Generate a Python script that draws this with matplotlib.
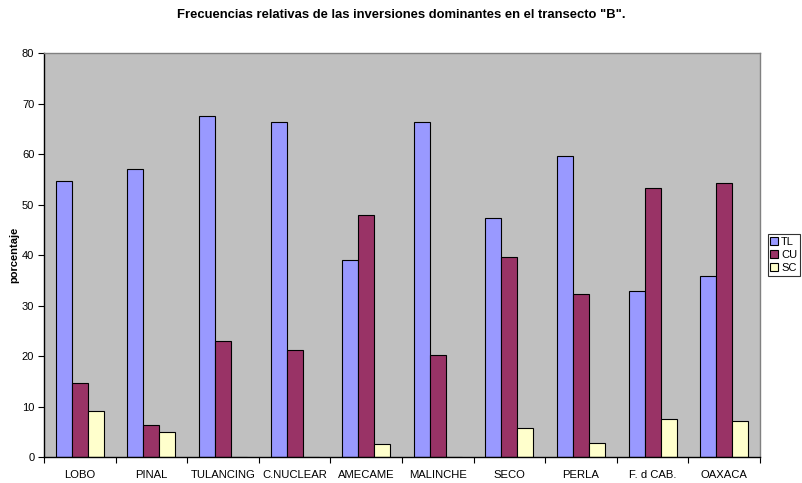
import numpy as np
import matplotlib
matplotlib.use("Agg")
import matplotlib.pyplot as plt

# valores (porcentaje)
sitios = ["LOBO", "PINAL", "TULANCING", "C.NUCLEAR", "AMECAME",
          "MALINCHE", "SECO", "PERLA", "F. d CAB.", "OAXACA"]
tl = [54.6, 57.0, 67.6, 66.3, 39.0, 66.3, 47.4, 59.7, 32.8, 35.8]
cu = [14.6, 6.3, 22.9, 21.2, 48.0, 20.2, 39.6, 32.3, 53.3, 54.2]
sc = [9.1, 4.9, 0, 0, 2.5, 0, 5.8, 2.7, 7.5, 7.2]

plt.rcParams['font.family'] = ['Liberation Sans', 'DejaVu Sans']

fig = plt.figure(figsize=(8.03, 4.83), dpi=100)
ax = fig.add_axes([0.0548, 0.0538, 0.8917, 0.8362])

x = np.arange(len(sitios))
w = 0.224
ax.bar(x - w, tl, w, color="#9999FF", edgecolor="black", linewidth=0.8, label="TL")
ax.bar(x, cu, w, color="#993366", edgecolor="black", linewidth=0.8, label="CU")
ax.bar(x + w, sc, w, color="#FFFFCC", edgecolor="black", linewidth=0.8, label="SC")

ax.set_facecolor("#C0C0C0")
ax.set_xlim(-0.5, len(sitios) - 0.5)
ax.set_ylim(0, 80)
ax.set_yticks(range(0, 81, 10))
ax.tick_params(axis="y", labelsize=8, length=4, width=0.8, direction="out", pad=3)

# etiquetas centradas, marcas entre categorias
ax.set_xticks(np.arange(-0.5, len(sitios), 1))
ax.set_xticklabels([])
ax.set_xticks(x, minor=True)
ax.set_xticklabels(sitios, minor=True, fontsize=8.1)
ax.tick_params(axis="x", which="major", length=4, width=0.8, direction="out")
ax.tick_params(axis="x", which="minor", length=0, pad=9)

for s in ["top", "right"]:
    ax.spines[s].set_color("#808080")
    ax.spines[s].set_linewidth(1)
for s in ["left", "bottom"]:
    ax.spines[s].set_color("black")
    ax.spines[s].set_linewidth(1)

ax.set_ylabel("porcentaje", fontsize=8, fontweight="bold", labelpad=2)
fig.suptitle('Frecuencias relativas de las inversiones dominantes en el transecto "B".',
             fontsize=9.4, fontweight="bold", y=0.982)

leg = fig.legend(loc="center left", bbox_to_anchor=(0.956, 0.472), fontsize=8,
                 frameon=True, fancybox=False, edgecolor="black",
                 handlelength=0.7, handleheight=0.7, handletextpad=0.25,
                 borderpad=0.25, labelspacing=0.25, borderaxespad=0)
leg.get_frame().set_linewidth(0.8)

fig.savefig("out.png", dpi=100)
